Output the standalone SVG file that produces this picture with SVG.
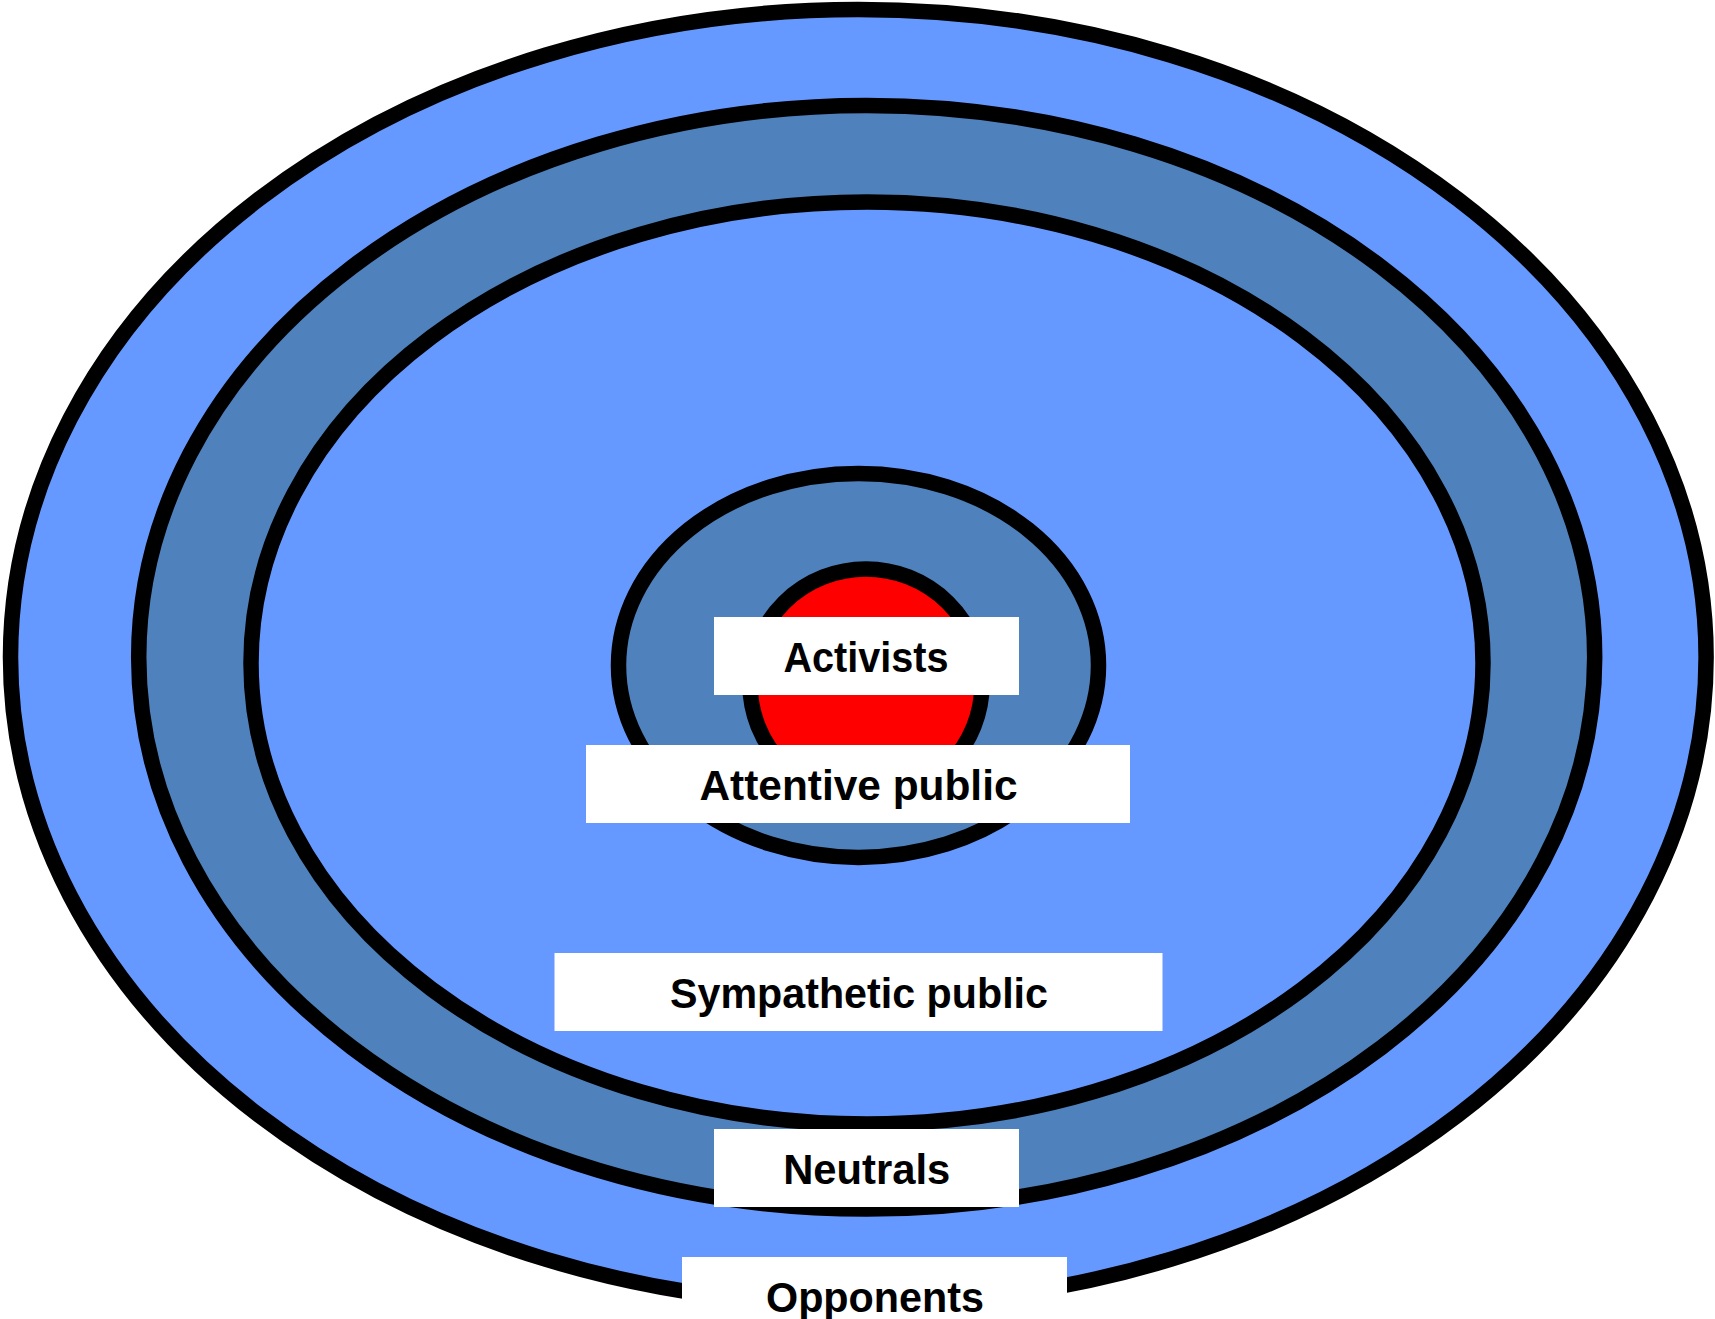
<svg xmlns="http://www.w3.org/2000/svg" width="1715" height="1319" viewBox="0 0 1715 1319">
<style>
.ring{stroke:#000;stroke-width:15.5}
.light{fill:#6699FF}
.dark{fill:#4F81BD}
.core{fill:#FF0000}
.box{fill:#FFFFFF}
.lbl{font-family:"Liberation Sans",Arial,sans-serif;font-weight:bold;font-size:42px;fill:#000;text-anchor:middle}
</style>
<rect x="0" y="0" width="1715" height="1319" fill="#FFFFFF"/>
<g id="ring-opponents"><ellipse class="ring light" cx="858.3" cy="657.2" rx="847.8" ry="647.7"/></g>
<g id="ring-neutrals"><ellipse class="ring dark" cx="866.7" cy="657.3" rx="728" ry="551.8"/></g>
<g id="ring-sympathetic"><ellipse class="ring light" cx="867" cy="663" rx="616" ry="461"/></g>
<g id="ring-attentive"><ellipse class="ring dark" cx="858.5" cy="665.4" rx="240" ry="192"/></g>
<g id="ring-activists"><ellipse class="ring core" cx="866" cy="684" rx="116" ry="115"/></g>
<g id="label-activists"><rect class="box" x="714" y="617" width="305" height="78"/><text class="lbl" x="866" y="672" textLength="165" lengthAdjust="spacingAndGlyphs">Activists</text></g>
<g id="label-attentive"><rect class="box" x="586" y="745" width="544" height="78"/><text class="lbl" x="858.5" y="800" textLength="318" lengthAdjust="spacingAndGlyphs">Attentive public</text></g>
<g id="label-sympathetic"><rect class="box" x="554.5" y="953" width="608" height="78"/><text class="lbl" x="859" y="1008" textLength="378" lengthAdjust="spacingAndGlyphs">Sympathetic public</text></g>
<g id="label-neutrals"><rect class="box" x="714" y="1129" width="305" height="78"/><text class="lbl" x="866.7" y="1184" textLength="167" lengthAdjust="spacingAndGlyphs">Neutrals</text></g>
<g id="label-opponents"><rect class="box" x="682" y="1257" width="385" height="78"/><text class="lbl" x="875" y="1312" textLength="218" lengthAdjust="spacingAndGlyphs">Opponents</text></g>
</svg>
